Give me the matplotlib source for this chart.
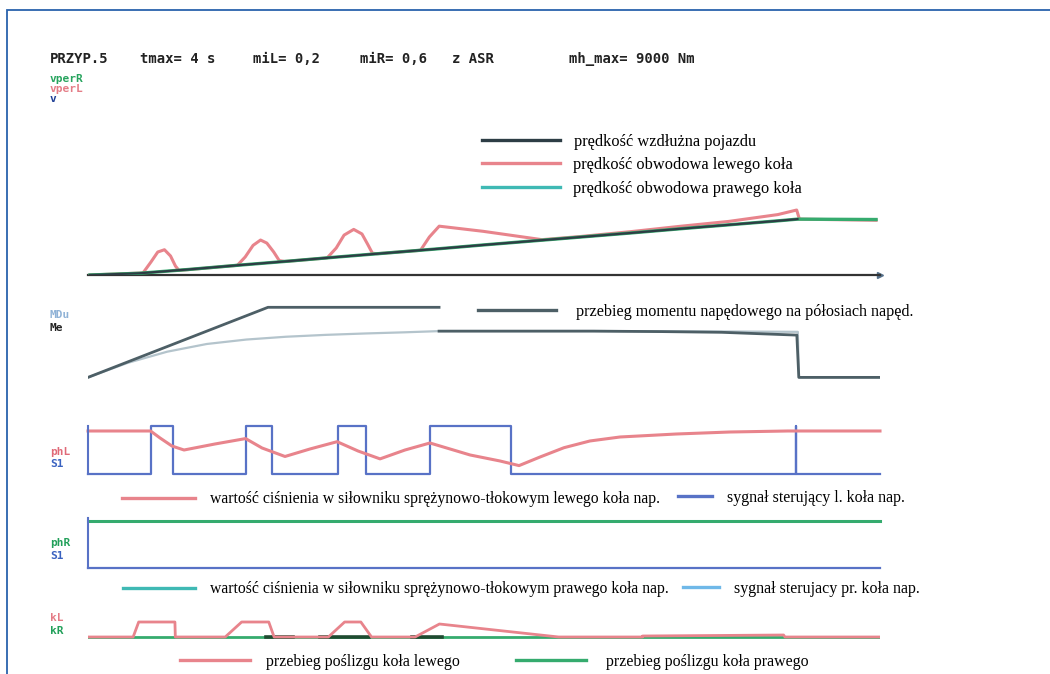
import numpy as np
import matplotlib
matplotlib.use("Agg")
import matplotlib.pyplot as plt
from matplotlib.lines import Line2D
from matplotlib.patches import Rectangle

W, H, DPI = 1050, 674, 100
X0, X1 = 88, 880          # pixel extent of the time axis
T_MAX = 4.0

MONO = ["DejaVu Sans Mono"]
SERIF = ["Liberation Serif", "DejaVu Serif"]

# ---------------- data ----------------
# vehicle longitudinal speed and wheel circumferential speeds [km/h]
t_v = [0, 0.25, 0.5, 0.75, 1.0, 1.25, 1.5, 1.75, 2.0, 2.25, 2.5, 2.75, 3.0, 3.25, 3.5, 3.6]
v = [0, 0.9, 2.9, 5.1, 7.2, 9.4, 11.5, 13.6, 15.8, 17.9, 20.0, 22.1, 24.3, 26.4, 28.5, 29.4]
t_vR = [0, 0.25, 0.5, 0.75, 1.0, 1.25, 1.5, 1.75, 2.0, 2.25, 2.5, 2.75, 3.0, 3.25, 3.5, 3.6, 4.0]
vperR = [0, 0.9, 2.9, 5.1, 7.2, 9.4, 11.5, 13.6, 15.8, 17.9, 20.0, 22.1, 24.3, 26.4, 28.5, 29.4, 29.2]
t_vL = [0, 0.27, 0.31, 0.345, 0.379, 0.41, 0.435, 0.453,
        0.75, 0.79, 0.83, 0.868, 0.90, 0.935, 0.963, 0.99,
        1.207, 1.253, 1.293, 1.342, 1.384, 1.414, 1.437, 1.46,
        1.682, 1.727, 1.777, 2.0, 2.3, 2.5, 2.75, 3.0, 3.25, 3.5, 3.596, 3.61, 4.0]
vperL = [0, 1.1, 6.8, 12.1, 13.3, 10.0, 4.7, 2.4,
         5.1, 9.5, 15.6, 18.4, 16.8, 12.1, 7.6, 7.1,
         9.0, 14.2, 21.0, 24.0, 21.6, 16.0, 11.5, 11.2,
         13.0, 20.0, 25.7, 23.0, 18.6, 20.3, 22.8, 25.6, 28.2, 31.8, 34.2, 29.4, 28.8]

# drive torque on the half-shafts [Nm]
t_me = [0, 0.909, 1.773, 1.773, 1.773, 2.55, 2.9, 3.2, 3.58, 3.59, 4.0]
Me = [0, 3000, 3000, np.nan, 1980, 1980, 1960, 1930, 1810, 0, 0]
t_mdu = [0, 0.2, 0.4, 0.6, 0.8, 1.0, 1.2, 1.4, 1.6, 1.77, 2.55, 3.2, 3.585, 3.59, 4.0]
MDu = [0, 620, 1100, 1430, 1620, 1740, 1820, 1880, 1930, 1980, 1985, 1965, 1950, 0, 0]

# left wheel: brake cylinder pressure (relative) and control signal
t_phL = [0, 0.316, 0.364, 0.424, 0.485, 0.641, 0.796, 0.879, 0.995, 1.121, 1.258,
         1.364, 1.475, 1.601, 1.727, 1.93, 2.081, 2.177, 2.283, 2.404, 2.535,
         2.687, 2.97, 3.242, 3.535, 4.0]
phL = [0.896, 0.896, 0.75, 0.583, 0.50, 0.625, 0.738, 0.542, 0.365, 0.521, 0.673,
       0.479, 0.315, 0.50, 0.646, 0.396, 0.271, 0.175, 0.354, 0.548, 0.688,
       0.771, 0.833, 0.875, 0.896, 0.896]
t_S1L = [0, 0.316, 0.429, 0.796, 0.929, 1.263, 1.404, 1.727, 2.136, 3.574, 3.578, 4.0]
S1L = [0, 1, 0, 1, 0, 1, 0, 1, 0, 1, 0, 0]

# right wheel: pressure and control signal
t_phR = [0, 4.0]
phR = [0.98, 0.98]
t_S1R = [0, 4.0]
S1R = [0, 0]

# wheel slip
t_kL = [0, 0.228, 0.256, 0.439, 0.441, 0.693, 0.776, 0.913, 0.940,
        1.214, 1.296, 1.378, 1.432, 1.652, 1.775, 2.377,
        2.80, 2.801, 3.171, 3.513, 3.52, 4.0]
kL = [0, 0, 0.30, 0.30, 0, 0, 0.30, 0.30, 0,
      0, 0.30, 0.30, 0, 0, 0.26, 0,
      0, 0.02, 0.03, 0.04, 0, 0]
t_kR = [0, 4.0]
kR = [0, 0]
kR_active = [(0.90, 1.035), (1.172, 1.419), (1.636, 1.788)]

# header
header = ["PRZYP.5", "tmax= 4 s", "miL= 0,2", "miR= 0,6", "z ASR", "mh_max= 9000 Nm"]
header_x = [50, 140, 253, 360, 452, 569]

# colours
RED = "#e8848c"
BLUE = "#5872c6"
GREEN = "#35ab6e"
TEAL = "#3fb9b4"
DARK = "#2d3d45"
SLATE = "#4d5f66"
MDU_C = "#b4c4cc"

# ---------------- figure ----------------
fig = plt.figure(figsize=(W / DPI, H / DPI), dpi=DPI)
fig.patch.set_facecolor("white")

# frame open to the right and bottom
fig.patches.append(Rectangle((7 / W, -0.1), 1.2, 1 - 10 / H + 0.1,
                             transform=fig.transFigure, fill=False,
                             edgecolor="#2a62ad", lw=1.3))


def panel(top, bottom, ylim):
    ax = fig.add_axes([X0 / W, 1 - bottom / H, (X1 - X0) / W, (bottom - top) / H])
    ax.set_xlim(0, T_MAX)
    ax.set_ylim(*ylim)
    ax.set_xticks([])
    ax.set_yticks([])
    for s in ax.spines.values():
        s.set_visible(False)
    ax.patch.set_alpha(0)
    return ax


def ftext(x, y, s, color, **kw):
    fig.text(x / W, 1 - y / H, s, color=color, va="center", ha="left", **kw)


def key(label, color, x, y, length, gap, size=11.8, lw=2.4):
    fs_px = size * DPI / 72
    h = Line2D([], [], color=color, lw=lw)
    leg = fig.legend([h], [label], loc="center left",
                     bbox_to_anchor=(x / W, 1 - y / H),
                     frameon=False, prop={"family": SERIF, "size": size},
                     handlelength=length / fs_px, handletextpad=gap / fs_px,
                     borderpad=0, borderaxespad=0)
    return leg


# header row and channel labels
for s, x in zip(header, header_x):
    ftext(x, 59, s, "#222222", family=MONO, size=10, weight="bold")

ftext(50, 79, "vperR", "#27a45e", family=MONO, size=8, weight="bold")
ftext(50, 89, "vperL", "#e47c86", family=MONO, size=8, weight="bold")
ftext(50, 99, "v", "#1f3f96", family=MONO, size=8, weight="bold")
ftext(50, 315, "MDu", "#8fb2d6", family=MONO, size=8, weight="bold")
ftext(50, 328, "Me", "#222222", family=MONO, size=8, weight="bold")
ftext(50, 452, "phL", "#e06a78", family=MONO, size=8, weight="bold")
ftext(50, 464, "S1", "#3a62c0", family=MONO, size=8, weight="bold")
ftext(50, 543, "phR", "#22a05a", family=MONO, size=8, weight="bold")
ftext(50, 556, "S1", "#3a62c0", family=MONO, size=8, weight="bold")
ftext(50, 618, "kL", "#e47c86", family=MONO, size=8, weight="bold")
ftext(50, 631, "kR", "#22a05a", family=MONO, size=8, weight="bold")

# ---- panel 1: speeds
ax1 = panel(199, 275, (0, 40))
ax1.plot(t_vL, vperL, color=RED, lw=2.2, solid_joinstyle="round", zorder=2)
ax1.plot(t_vR, vperR, color=GREEN, lw=2.4, zorder=3)
ax1.plot(t_v, v, color=DARK, lw=1.6, zorder=4)
ax1.spines["bottom"].set_visible(True)
ax1.spines["bottom"].set_color("#333333")
ax1.spines["bottom"].set_linewidth(1.6)
ax1.set_xlim(-0.01, T_MAX + 0.02)
ax1.plot(1, 0, marker=">", color="#55708a", ms=4,
         transform=ax1.get_yaxis_transform(), clip_on=False)

key("prędkość wzdłużna pojazdu", DARK, 482, 142, 78, 14)
key("prędkość obwodowa lewego koła", RED, 482, 165, 78, 13)
key("prędkość obwodowa prawego koła", TEAL, 482, 189, 78, 13)

# ---- panel 2: drive torque
ax2 = panel(300, 385, (-326, 3313))
ax2.plot(t_mdu, MDu, color=MDU_C, lw=1.6, zorder=2)
ax2.plot(t_me, Me, color=SLATE, lw=2.0, zorder=3)
key("przebieg momentu napędowego na półosiach napęd.", SLATE, 478, 312, 78, 20, size=11.6)

# ---- panel 3: left wheel pressure and control
ax3 = panel(426, 474, (0, 1))
ax3.spines["left"].set_visible(True)
ax3.spines["left"].set_color(BLUE)
ax3.spines["left"].set_linewidth(1.5)
ax3.plot(t_S1L, S1L, color=BLUE, lw=1.6, drawstyle="steps-post", clip_on=False)
ax3.plot(t_phL, phL, color=RED, lw=2.2, clip_on=False)
key("wartość ciśnienia w siłowniku sprężynowo-tłokowym lewego koła nap.", RED, 122, 499, 73, 15, size=11.3)
key("sygnał sterujący l. koła nap.", BLUE, 678, 498, 34, 15, size=11.5)

# ---- panel 4: right wheel pressure and control
ax4 = panel(518, 568, (0, 50 / 48))
ax4.spines["left"].set_visible(True)
ax4.spines["left"].set_color(BLUE)
ax4.spines["left"].set_linewidth(1.5)
ax4.plot(t_S1R, S1R, color=BLUE, lw=1.6, clip_on=False)
ax4.plot(t_phR, phR, color=GREEN, lw=2.2, clip_on=False)
key("wartość ciśnienia w siłowniku sprężynowo-tłokowym prawego koła nap.", TEAL, 123, 589, 72, 15, size=11.3)
key("sygnał sterujacy pr. koła nap.", "#6fb8e8", 683, 589, 36, 15, size=11.5)

# ---- panel 5: wheel slip
ax5 = panel(610, 645, (-0.16, 0.54))
ax5.plot(t_kR, kR, color=GREEN, lw=2.0, zorder=2)
for a, b in kR_active:
    ax5.plot([a, b], [0, 0], color="#1f4a30", lw=2.6, zorder=3)
ax5.plot(t_kL, kL, color=RED, lw=2.0, zorder=4)
key("przebieg poślizgu koła lewego", RED, 180, 662, 70, 16, size=11.4)
key("przebieg poślizgu koła prawego", GREEN, 516, 662, 70, 20, size=11.4)

fig.savefig("out.png", dpi=DPI)
